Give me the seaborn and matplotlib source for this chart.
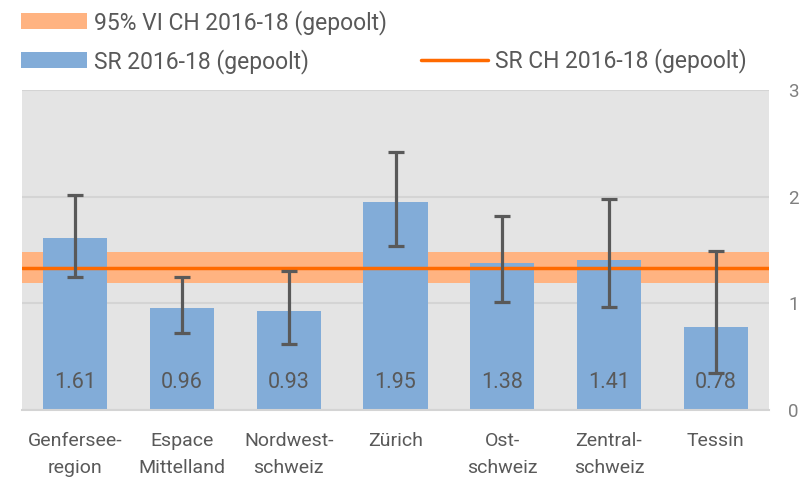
import matplotlib
matplotlib.use("Agg")
import matplotlib.pyplot as plt
from matplotlib.patches import Patch
from matplotlib.lines import Line2D
import seaborn as sns
import pandas as pd

regions = ["Genfersee-\nregion", "Espace\nMittelland", "Nordwest-\nschweiz", "Zürich",
           "Ost-\nschweiz", "Zentral-\nschweiz", "Tessin"]
sr_values = [1.61, 0.96, 0.93, 1.95, 1.38, 1.41, 0.78]
ci_low = [1.25, 0.72, 0.62, 1.54, 1.01, 0.97, 0.35]
ci_high = [2.02, 1.25, 1.30, 2.42, 1.82, 1.98, 1.49]
ch_sr = 1.33
ch_ci_low = 1.19
ch_ci_high = 1.48
y_ticks = [0, 1, 2, 3]

sns.set_theme(style="white")
plt.rcParams["font.family"] = ["Roboto", "DejaVu Sans"]

BAR = "#82acd8"
BAND = "#ffb381"
LINE = "#ff6a00"
ERR = "#595959"
TXT = "#595959"

df = pd.DataFrame({"Region": regions, "SR": sr_values})

fig = plt.figure(figsize=(8.02, 4.79), dpi=100)
ax = fig.add_axes([22 / 802, 1 - 410 / 479, (769 - 22) / 802, (410 - 90) / 479])
ax.set_facecolor("#e4e4e4")

ax.axhspan(ch_ci_low, ch_ci_high, color=BAND, zorder=1, lw=0)
sns.barplot(data=df, x="Region", y="SR", color=BAR, saturation=1, width=0.6,
            ax=ax, zorder=2, edgecolor="none")
ax.axhline(ch_sr, color=LINE, lw=2.5, zorder=3)

xs = list(range(len(regions)))
yerr = [[v - lo for v, lo in zip(sr_values, ci_low)],
        [hi - v for v, hi in zip(sr_values, ci_high)]]
ax.errorbar(xs, sr_values, yerr=yerr, fmt="none", ecolor=ERR, elinewidth=2.3,
            capsize=5.5, capthick=2.3, zorder=4)

for x, v in zip(xs, sr_values):
    ax.text(x, 0.26, f"{v:.2f}", ha="center", va="center", fontsize=15.5, color=TXT, zorder=5)

ax.set_ylim(0, 3)
ax.set_xlim(-0.5, len(regions) - 0.5)
ax.set_yticks(y_ticks)
ax.set_yticklabels([str(t) for t in y_ticks])
ax.yaxis.tick_right()
ax.tick_params(axis="y", length=0, pad=14, labelsize=13.5, labelcolor="#7f7f7f")
ax.tick_params(axis="x", length=0, pad=16, labelsize=14, labelcolor=TXT)
for lbl in ax.get_xticklabels():
    lbl.set_linespacing(1.6)
ax.set_xlabel("")
ax.set_ylabel("")
ax.grid(axis="y", color="#d4d4d4", lw=1.5, zorder=0)
ax.set_axisbelow(True)
for s in ["left", "right", "top"]:
    ax.spines[s].set_visible(False)
ax.spines["bottom"].set_color("#d4d4d4")
ax.spines["bottom"].set_linewidth(1.5)

handles = [
    Patch(facecolor=BAND, edgecolor="none", label="95% VI CH 2016-18 (gepoolt)"),
    Patch(facecolor=BAR, edgecolor="none", label="SR 2016-18 (gepoolt)"),
    Patch(facecolor="none", edgecolor="none", label=" "),
    Line2D([0], [0], color=LINE, lw=2.5, label="SR CH 2016-18 (gepoolt)"),
]
leg = fig.legend(handles=handles, ncol=2, loc="upper left",
                 bbox_to_anchor=(16 / 802, 1 - 5 / 479), frameon=False,
                 fontsize=16.5, handlelength=2.9, handleheight=0.7,
                 handletextpad=0.3, labelspacing=0.62, columnspacing=1.5,
                 borderaxespad=0, borderpad=0.2)
for t in leg.get_texts():
    t.set_color(TXT)

fig.savefig("out.png", dpi=100, facecolor="white")
